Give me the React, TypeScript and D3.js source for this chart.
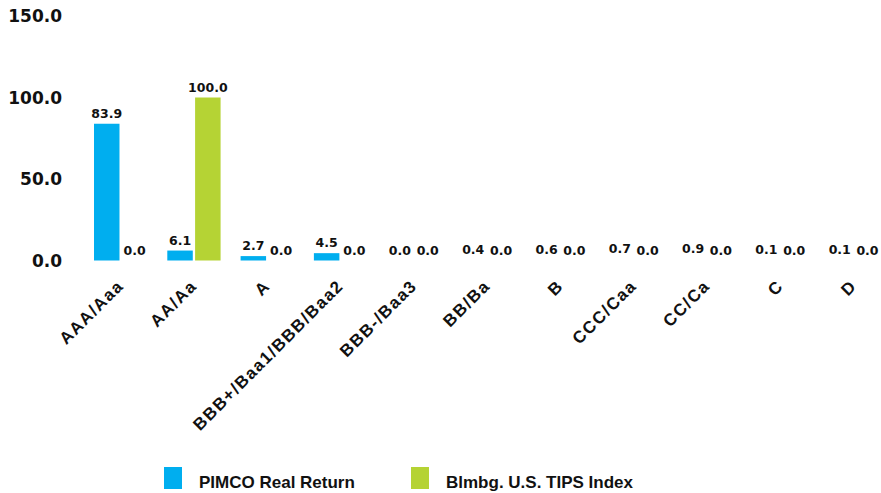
import React from "react";
import * as d3 from "d3";

const categories = ["AAA/Aaa", "AA/Aa", "A", "BBB+/Baa1/BBB/Baa2", "BBB-/Baa3", "BB/Ba", "B", "CCC/Caa", "CC/Ca", "C", "D"];
const pimco = [83.9, 6.1, 2.7, 4.5, 0.0, 0.4, 0.6, 0.7, 0.9, 0.1, 0.1];
const tips = [0.0, 100.0, 0.0, 0.0, 0.0, 0.0, 0.0, 0.0, 0.0, 0.0, 0.0];
const seriesNames = ["PIMCO Real Return", "Blmbg. U.S. TIPS Index"];
const yTicks = [0, 50, 100, 150];

const COLORS = ["#00aeef", "#b5d334"];
const NUM_FONT = "'DejaVu Sans', sans-serif";
const LBL_FONT = "'Liberation Sans', Arial, sans-serif";

export default function App() {
  const W = 881, H = 493;
  const x = d3.scaleBand<string>().domain(categories).range([57.35, 916.9]).paddingInner(0.273).paddingOuter(0.5);
  const xs = d3.scaleBand<number>().domain([0, 1]).range([0, x.bandwidth()]).paddingInner(0.083);
  const y = d3.scaleLinear().domain([0, 150]).range([260.5, 16]);
  const series = [pimco, tips];

  return (
    <svg width={W} height={H} style={{ position: "absolute", left: 0, top: 0, background: "#fff" }}>
      {yTicks.map((t) => (
        <text key={t} x={62} y={y(t)} dy="0.36em" textAnchor="end" fontFamily={NUM_FONT} fontSize={17} fontWeight={700} fill="#111">
          {d3.format(".1f")(t)}
        </text>
      ))}
      {categories.map((c, i) => {
        const cx = x(c)! + x.bandwidth() / 2;
        return (
          <g key={c}>
            {series.map((s, j) => {
              const v = s[i];
              const bx = x(c)! + xs(j)!;
              return (
                <g key={j}>
                  {v >= 1 && (
                    <rect x={bx} y={y(v)} width={xs.bandwidth()} height={y(0) - y(v)} fill={COLORS[j]} />
                  )}
                  <text x={bx + xs.bandwidth() / 2} y={y(v) - 6} textAnchor="middle" fontFamily={NUM_FONT} fontSize={12.5} fontWeight={700} fill="#111">
                    {d3.format(".1f")(v)}
                  </text>
                </g>
              );
            })}
            <text
              transform={`translate(${cx + 4},${287}) rotate(-45)`}
              textAnchor="end"
              fontFamily={LBL_FONT}
              fontSize={17}
              letterSpacing={1.4}
              fontWeight={700}
              fill="#111"
            >
              {c}
            </text>
          </g>
        );
      })}
      {seriesNames.map((n, j) => (
        <g key={n} transform={`translate(${j === 0 ? 164 : 411},467)`}>
          <rect width={18} height={22} fill={COLORS[j]} />
          <text x={35} y={20.5} fontFamily={LBL_FONT} fontSize={17} fontWeight={700} fill="#111">{n}</text>
        </g>
      ))}
    </svg>
  );
}
